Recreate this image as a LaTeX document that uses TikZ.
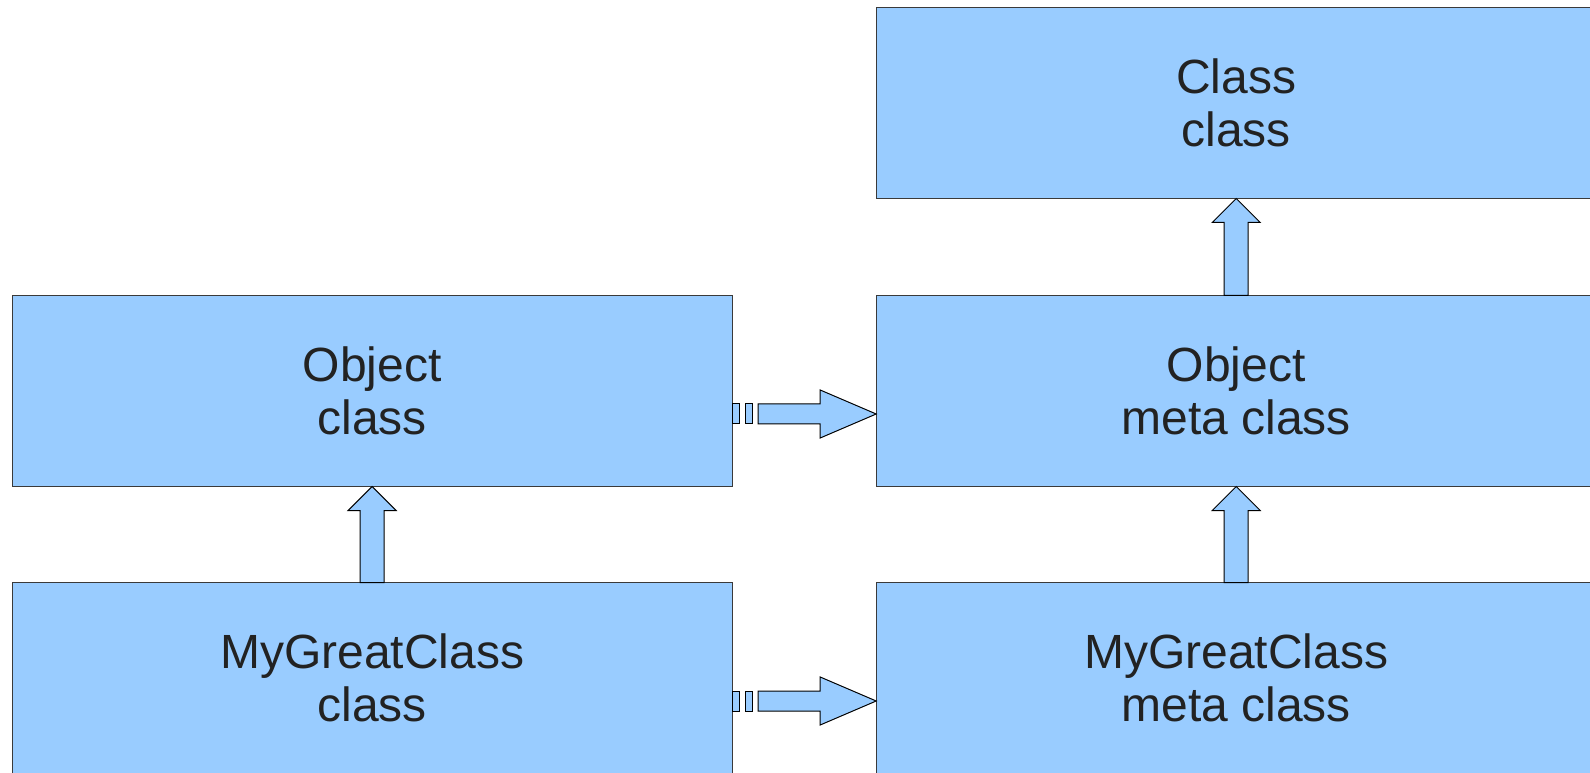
\documentclass[tikz,border=0pt]{standalone}
\usepackage{fontspec}
\setmainfont{Liberation Sans}
\usetikzlibrary{positioning,calc}

\definecolor{boxblue}{HTML}{99CCFF}
\definecolor{edgegray}{HTML}{3A3A3A}
\definecolor{textgray}{HTML}{222222}

\begin{document}
\begin{tikzpicture}[
        x = 1pt,
        y = 1pt,
        classbox/.style = {draw=edgegray, fill=boxblue, line width=1pt,
            minimum width=720pt, minimum height=191pt, outer sep=0pt,
            align=center, text=textgray,
            font=\fontsize{48}{53}\selectfont},
        blockarrow/.style = {draw=black, fill=boxblue, line width=1pt,
            line join=miter}
        ]
        \useasboundingbox (0, 0) rectangle (1590, 772);
        \clip (0, 0) rectangle (1590, 772);

        % the boxes
        \node[classbox] (objcls) at (372.2, 381) {Object\\class};
        \node[classbox, below=96pt of objcls] (mgccls) {MyGreatClass\\class};
        \node[classbox, right=144pt of objcls] (objmeta) {Object\\meta class};
        \node[classbox, right=144pt of mgccls] (mgcmeta) {MyGreatClass\\meta class};
        \node[classbox, above=97pt of objmeta] (clscls) {Class\\class};

        % inheritance, block arrows pointing up
        \foreach \lo/\hi in {mgccls/objcls, mgcmeta/objmeta, objmeta/clscls} {
            \draw[blockarrow] ($(\lo.north)+(-12, 0)$) -- ($(\hi.south)+(-12, -24)$)
                -- ++(-12, 0) -- (\hi.south) -- ++(24, -24) -- ++(-12, 0)
                -- ($(\lo.north)+(12, 0)$) -- cycle;
        }

        % instance of, broken arrows pointing right
        \foreach \from/\to in {objcls/objmeta, mgccls/mgcmeta} {
            \coordinate (start) at ($(\from.east)+(0, -23)$);
            \coordinate (tip) at ($(\to.west)+(0, -23)$);
            \draw[blockarrow] ($(start)+(0, -10)$) rectangle ++(7, 20);
            \draw[blockarrow] ($(start)+(13, -10)$) rectangle ++(7, 20);
            \draw[blockarrow] ($(start)+(26, -10)$) -- ($(tip)+(-56, -10)$)
                -- ++(0, -14) -- (tip) -- ++(-56, 24) -- ++(0, -14)
                -- ($(start)+(26, 10)$) -- cycle;
        }
    \end{tikzpicture}
\end{document}
